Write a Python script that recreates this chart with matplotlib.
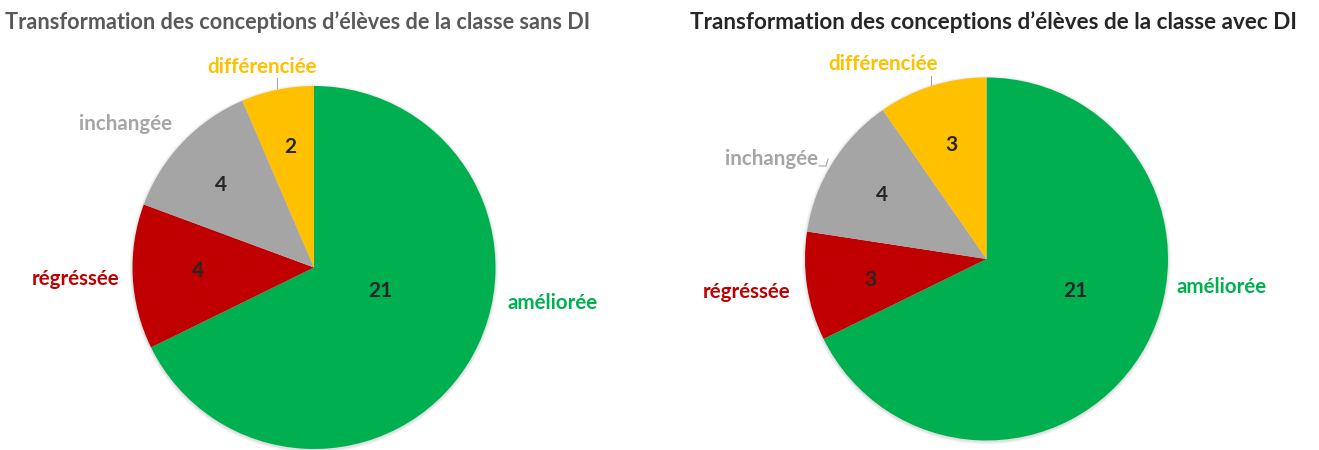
import matplotlib.pyplot as plt
from matplotlib.patches import Circle

# Data
categories = ["améliorée", "régréssée", "inchangée", "différenciée"]
values_sans_di = [21, 4, 4, 2]
values_avec_di = [21, 3, 4, 3]
titles = ["Transformation des conceptions d\u2019élèves de la classe sans DI",
          "Transformation des conceptions d\u2019élèves de la classe avec DI"]

slice_colors = ["#00B050", "#C00000", "#A5A5A5", "#FFC000"]
label_colors = ["#00B050", "#C00000", "#A5A5A5", "#FFC000"]
title_colors = ["#595959", "#262626"]

W, H = 1319, 450
fig = plt.figure(figsize=(W / 100, H / 100), dpi=100)
ax = fig.add_axes([0, 0, 1, 1])

FONT = "Lato"


def py(y):
    # convert a top-down pixel row into axes units
    return H - y


charts = [
    dict(values=values_sans_di, center=(314, 267.5), radius=181.5,
         title_xy=(298, 22), title_size=15.6,
         value_xy=[(380, 291), (198, 271), (221, 185), (290, 147)],
         cat_xy=[(553, 303), (76, 279), (125, 124), (262, 67)],
         leaders=[[(277, 78), (277, 88)]]),
    dict(values=values_avec_di, center=(986.5, 259), radius=181.5,
         title_xy=(993, 22), title_size=16.2,
         value_xy=[(1075, 291), (870, 280), (882, 195), (951, 145)],
         cat_xy=[(1222, 287), (747, 292), (771, 159), (883, 64)],
         leaders=[[(931, 76), (931, 85)], [(819, 166), (826, 166), (828, 159)]]),
]

for i, ch in enumerate(charts):
    cx, cy = ch["center"]
    r = ch["radius"]
    # soft shadow around the pie
    for k, a in enumerate([0.05, 0.04, 0.03]):
        ax.add_patch(Circle((cx, py(cy) - 1), r + 1 + k, color="#000000",
                            alpha=a, lw=0, zorder=0))
    ax.pie(ch["values"], colors=slice_colors, startangle=90, counterclock=False,
           center=(cx, py(cy)), radius=r, frame=True,
           wedgeprops=dict(linewidth=0))

    ax.text(ch["title_xy"][0], py(ch["title_xy"][1]), titles[i],
            ha="center", va="center", fontsize=ch["title_size"],
            fontweight="bold", color=title_colors[i], family=FONT)

    for v, (x, y) in zip(ch["values"], ch["value_xy"]):
        ax.text(x, py(y), str(v), ha="center", va="center", fontsize=15,
                fontweight="bold", color="#262626", family=FONT)

    for name, col, (x, y) in zip(categories, label_colors, ch["cat_xy"]):
        ax.text(x, py(y), name, ha="center", va="center", fontsize=14.8,
                fontweight="bold", color=col, family=FONT)

    for pts in ch["leaders"]:
        xs = [p[0] for p in pts]
        ys = [py(p[1]) for p in pts]
        ax.plot(xs, ys, color="#A5A5A5", lw=0.8)

ax.set_xlim(0, W)
ax.set_ylim(0, H)
ax.set_aspect("auto")
ax.axis("off")

fig.savefig("out.png", dpi=100)
